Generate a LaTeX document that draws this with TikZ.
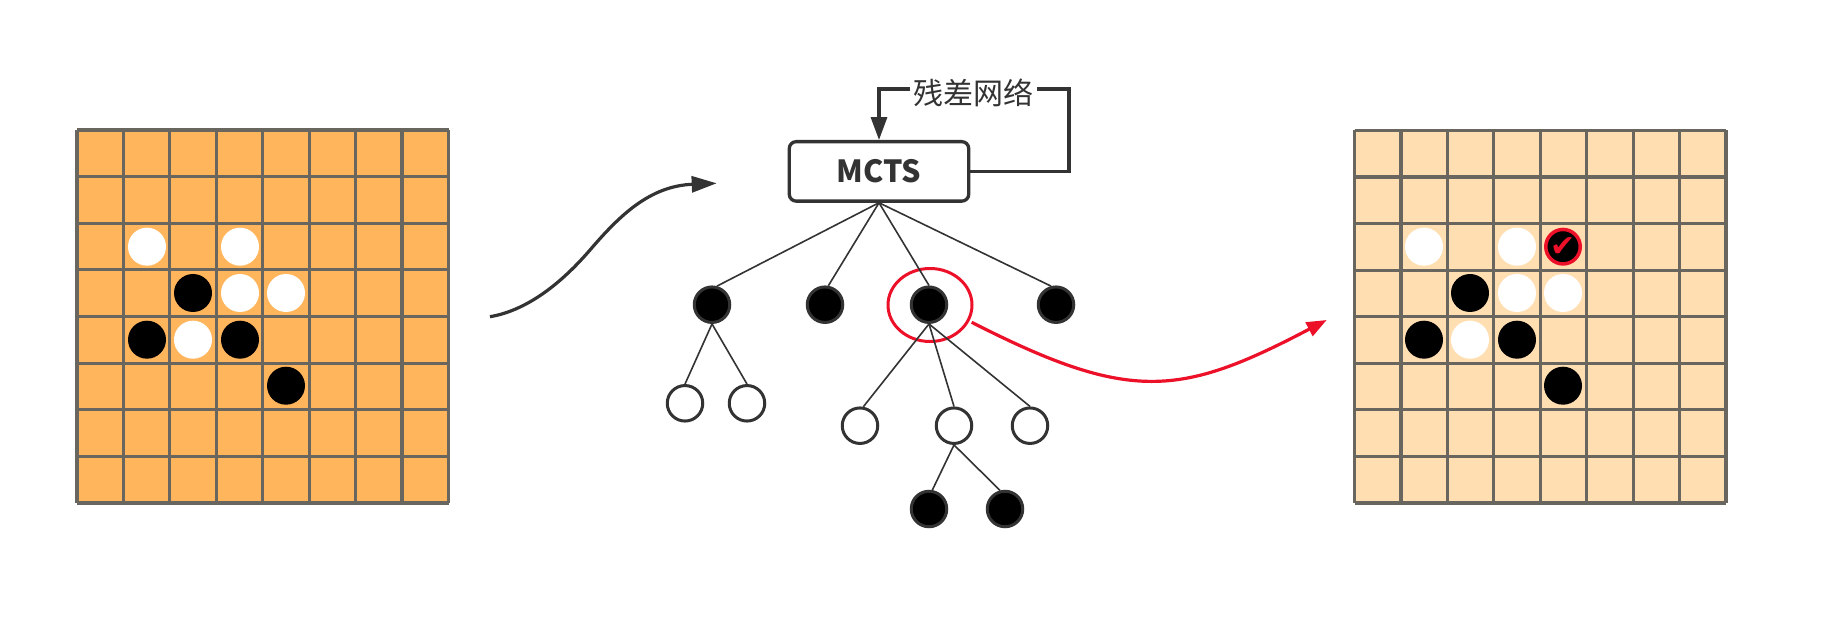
\documentclass[tikz,border=0pt]{standalone}
\usepackage{fontspec}
\usetikzlibrary{arrows.meta,shapes.geometric}
\newfontfamily\cjk{Noto Sans CJK SC}
\newfontfamily\sym{DejaVu Sans}
\definecolor{gridc}{HTML}{696660}
\definecolor{darkc}{HTML}{333333}
\definecolor{boarda}{HTML}{FFB55C}
\definecolor{boardb}{HTML}{FFDFB2}
\definecolor{redc}{HTML}{EC1029}
\tikzset{
  gridline/.style={draw=gridc,line width=3.2pt,line cap=square},
  bstone/.style={circle,fill=black,minimum size=38pt,inner sep=0pt,outer sep=0pt},
  wstone/.style={circle,fill=white,minimum size=38pt,inner sep=0pt,outer sep=0pt},
  tblack/.style={circle,fill=black,draw=darkc,line width=3pt,minimum size=35.5pt,inner sep=0pt,outer sep=1.5pt},
  twhite/.style={circle,fill=white,draw=darkc,line width=3pt,minimum size=35.5pt,inner sep=0pt,outer sep=1.5pt},
  treeline/.style={draw=darkc,line width=1.6pt},
  flow/.style={draw=darkc,line width=3.3pt,-{Triangle[length=23pt,width=16pt]}},
  plainflow/.style={draw=darkc,line width=3.3pt},
  redflow/.style={draw=redc,line width=3.2pt,-{Triangle[length=20pt,width=15pt]}},
}
\begin{document}
\begin{tikzpicture}[x=1pt,y=-1pt]
\useasboundingbox[fill=white] (0,0) rectangle (1842,636);
% boards
\fill[boarda] (77,130) rectangle (448.5,503);
\foreach \i in {0,...,8} {
  \draw[gridline] ({77+\i*46.44},130) -- ({77+\i*46.44},503);
  \draw[gridline] (77,{130+\i*46.62}) -- (448.5,{130+\i*46.62});
}
\fill[boardb] (1354.5,130.5) rectangle (1726,503);
\foreach \i in {0,...,8} {
  \draw[gridline] ({1354.5+\i*46.44},130.5) -- ({1354.5+\i*46.44},503);
  \draw[gridline] (1354.5,{130.5+\i*46.56}) -- (1726,{130.5+\i*46.56});
}
% stones
\foreach \s/\x/\y/\st in {a/147/246.7/wstone,b/240/246.7/wstone,c/193/293/bstone,d/240/293/wstone,e/286/293/wstone,f/147/339.7/bstone,g/193/339.7/wstone,h/240/339.7/bstone,k/286/385.7/bstone} {
  \node[\st] (A\s) at (\x,\y) {};
  \node[\st] (B\s) at ({\x+1277},\y) {};
}
\node[circle,fill=black,draw=redc,line width=3.5pt,minimum size=34.5pt,inner sep=0pt] (chk) at (1563,246.7) {};
\node[inner sep=0pt,text=redc] (chkmark) at (1563,247) {\sym\fontsize{30pt}{30pt}\selectfont ✔};
% red selection
\node[ellipse,draw=redc,line width=3pt,minimum width=84pt,minimum height=73pt,inner sep=0pt] (sel) at (930,305) {};
% MCTS
\node[draw=darkc,line width=3.3pt,rounded corners=7pt,minimum width=179.5pt,minimum height=59.5pt,inner sep=0pt,outer sep=1.6pt,fill=white] (mcts) at (879,171.4) {\cjk\bfseries\fontsize{30.5pt}{30.5pt}\selectfont\textcolor{darkc}{MCTS}};
\node[inner xsep=3pt,inner ysep=0pt,text=darkc,text height=31pt,text depth=0pt] (res) at (973.5,89) {\cjk\fontsize{30pt}{30pt}\selectfont 残差网络};
\coordinate (fb) at (1069,89);
\draw[plainflow,line join=miter] (mcts.east) -| (fb) -- (res.east);
\draw[flow] (res.west) -| (mcts.north);
% tree nodes
\node[tblack] (n1) at (712,304.7) {};
\node[tblack] (n2) at (825,304.7) {};
\node[tblack] (n3) at (929,304.7) {};
\node[tblack] (n4) at (1056,304.7) {};
\node[twhite] (w1) at (685,403.3) {};
\node[twhite] (w2) at (747,403.3) {};
\node[twhite] (w3) at (860,425.7) {};
\node[twhite] (w4) at (954,425.7) {};
\node[twhite] (w5) at (1030,425.7) {};
\node[tblack] (m1) at (929,509) {};
\node[tblack] (m2) at (1005,509) {};
\foreach \t in {n1.75,n2.80,n3.north,n4.105} \draw[treeline] (mcts.south) -- (\t);
\foreach \t in {w1.north,w2.north} \draw[treeline] (n1.south) -- (\t);
\foreach \t in {w3.80,w4.north,w5.north} \draw[treeline] (n3.south) -- (\t);
\foreach \t in {m1.80,m2.105} \draw[treeline] (w4.south) -- (\t);
% curved arrows
\coordinate (c1) at (490,316.7);
\coordinate (c2) at (716.7,183.3);
\draw[flow,line width=3.2pt,-{Triangle[length=25pt,width=16pt]}] (c1) .. controls (530,310) and (565,279) .. (590,250) .. controls (620,215) and (650,186) .. (c2);
\coordinate (r1) at (971.7,322.3);
\coordinate (r2) at (1326.7,320);
\draw[redflow] (r1) .. controls (1130,403) and (1180,397) .. (r2);
\end{tikzpicture}
\end{document}
